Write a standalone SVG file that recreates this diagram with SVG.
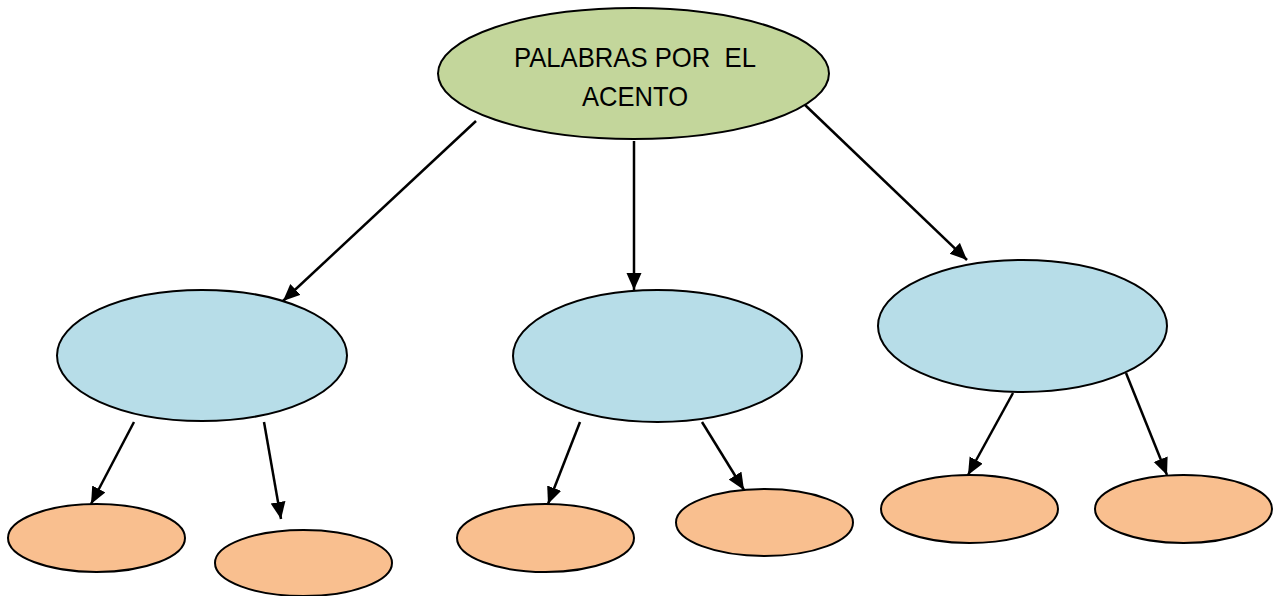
<svg xmlns="http://www.w3.org/2000/svg" width="1283" height="596" viewBox="0 0 1283 596">
<style>
.e{stroke:#000;stroke-width:2}
.g{fill:#C3D69B}
.b{fill:#B7DDE8}
.o{fill:#F9BF8F}
.c line{stroke:#000;stroke-width:2.5;marker-end:url(#ah)}
.t{font-family:"Liberation Sans",Arial,sans-serif;font-size:28px;fill:#000}
</style>
<defs>
<marker id="ah" markerUnits="userSpaceOnUse" markerWidth="19" markerHeight="16" refX="17" refY="7.5" orient="auto">
<path d="M0,0 L17,7.5 L0,15 Z" fill="#000"/>
</marker>
</defs>
<rect width="1283" height="596" fill="#fff"/>
<g class="c" id="connectors">
<line x1="476" y1="121" x2="283" y2="301"/>
<line x1="634" y1="141" x2="634" y2="290"/>
<line x1="804" y1="104" x2="967" y2="260"/>
<line x1="134" y1="422" x2="91" y2="504"/>
<line x1="264" y1="422" x2="281" y2="519"/>
<line x1="580" y1="422" x2="548" y2="504"/>
<line x1="702" y1="422" x2="744" y2="490"/>
<line x1="1013" y1="393" x2="968" y2="475"/>
<line x1="1126" y1="373" x2="1167" y2="475"/>
</g>
<g id="root">
<ellipse class="e g" cx="633.5" cy="73.5" rx="195.5" ry="65.5"/>
<text class="t" x="514" y="67" xml:space="preserve" textLength="242" lengthAdjust="spacingAndGlyphs">PALABRAS POR  EL</text>
<text class="t" x="582" y="106" textLength="106" lengthAdjust="spacingAndGlyphs">ACENTO</text>
</g>
<g id="b1"><ellipse class="e b" cx="202" cy="355.5" rx="145" ry="65.5"/></g>
<g id="b2"><ellipse class="e b" cx="657.5" cy="356" rx="144.5" ry="66"/></g>
<g id="b3"><ellipse class="e b" cx="1022.5" cy="326" rx="144.5" ry="66"/></g>
<g id="o1"><ellipse class="e o" cx="96.5" cy="538" rx="88.5" ry="34"/></g>
<g id="o2"><ellipse class="e o" cx="303.5" cy="563" rx="88.5" ry="33"/></g>
<g id="o3"><ellipse class="e o" cx="545.5" cy="538" rx="88.5" ry="34"/></g>
<g id="o4"><ellipse class="e o" cx="764.5" cy="522.5" rx="88.5" ry="33.5"/></g>
<g id="o5"><ellipse class="e o" cx="969.5" cy="509" rx="88.5" ry="34"/></g>
<g id="o6"><ellipse class="e o" cx="1183.5" cy="509" rx="88.5" ry="34"/></g>
</svg>
